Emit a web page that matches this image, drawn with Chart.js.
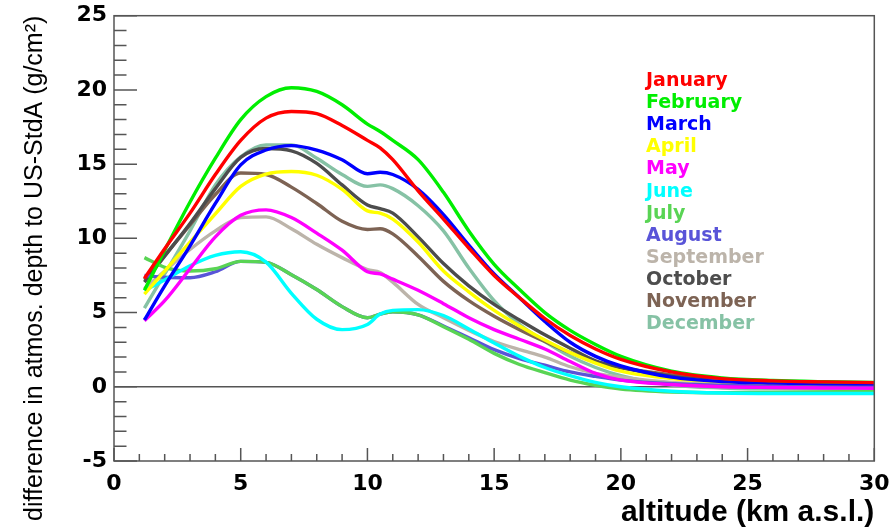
<!DOCTYPE html>
<html>
<head>
<meta charset="utf-8">
<script src="https://cdn.jsdelivr.net/npm/chart.js@4.4.1/dist/chart.umd.min.js"></script>
<style>
  html, body { margin: 0; padding: 0; background: #ffffff; }
</style>
</head>
<body>
<canvas id="chart" width="893" height="528"></canvas>
<script>
// altitude grid (km a.s.l.)
const altitude = [1.2, 2, 3, 4, 5, 6, 7, 8, 9, 10, 10.5, 11, 12, 13, 14, 15, 16, 17, 18, 19, 20, 22, 24, 26, 28, 30];

// difference in atmospheric depth to US-StdA (g/cm^2), one array per month
const january   = [7.3, 9.3, 11.7, 14.3, 16.6, 18.1, 18.55, 18.4, 17.6, 16.6, 16.1, 15.3, 13.2, 11.3, 9.35, 7.5, 6.0, 4.6, 3.45, 2.55, 1.85, 1.0, 0.55, 0.4, 0.33, 0.28];
const february  = [6.5, 9.2, 12.45, 15.4, 18.0, 19.55, 20.15, 19.9, 19.0, 17.7, 17.2, 16.6, 15.3, 13.1, 10.5, 8.25, 6.55, 5.0, 3.8, 2.85, 2.05, 1.05, 0.6, 0.42, 0.34, 0.3];
const march     = [4.5, 6.8, 9.5, 12.35, 14.95, 15.95, 16.25, 15.95, 15.3, 14.35, 14.45, 14.3, 13.3, 11.6, 9.55, 7.6, 6.0, 4.4, 3.0, 2.05, 1.4, 0.65, 0.35, 0.25, 0.2, 0.18];
const april     = [6.25, 7.8, 9.75, 11.65, 13.5, 14.33, 14.5, 14.25, 13.3, 11.85, 11.7, 11.3, 9.75, 7.8, 6.4, 5.15, 4.1, 3.15, 2.3, 1.6, 1.05, 0.55, 0.35, 0.25, 0.22, 0.2];
const may       = [4.45, 5.8, 7.95, 10.1, 11.55, 11.92, 11.4, 10.35, 9.2, 7.75, 7.6, 7.25, 6.5, 5.6, 4.65, 3.85, 3.2, 2.55, 1.7, 0.9, 0.45, 0.15, 0.0, -0.05, -0.08, -0.1];
const june      = [6.48, 7.2, 8.15, 8.85, 9.1, 8.4, 6.3, 4.55, 3.85, 4.2, 4.9, 5.15, 5.2, 4.8, 3.9, 2.95, 2.05, 1.3, 0.75, 0.3, 0.0, -0.3, -0.42, -0.45, -0.45, -0.45];
const july      = [8.7, 8.05, 7.8, 7.95, 8.45, 8.38, 7.55, 6.55, 5.4, 4.65, 4.9, 5.05, 4.85, 4.05, 3.2, 2.25, 1.5, 0.95, 0.45, 0.1, -0.15, -0.35, -0.4, -0.38, -0.34, -0.31];
const august    = [7.5, 7.38, 7.35, 7.75, 8.45, 8.38, 7.55, 6.55, 5.4, 4.65, 4.9, 5.05, 4.85, 4.1, 3.3, 2.5, 1.9, 1.45, 1.0, 0.7, 0.45, 0.2, 0.1, 0.05, 0.02, 0.0];
const september = [6.6, 7.8, 9.25, 10.5, 11.4, 11.45, 10.65, 9.6, 8.7, 7.9, 7.7, 7.05, 5.55, 4.65, 3.8, 3.05, 2.5, 2.0, 1.35, 0.9, 0.65, 0.3, 0.18, 0.12, 0.08, 0.06];
const october   = [7.05, 8.8, 11.0, 13.35, 15.45, 16.05, 15.9, 15.05, 13.6, 12.25, 12.0, 11.7, 10.1, 8.3, 6.8, 5.55, 4.5, 3.5, 2.6, 1.75, 1.3, 0.7, 0.4, 0.28, 0.22, 0.18];
const november  = [7.2, 8.85, 10.9, 12.95, 14.4, 14.3, 13.45, 12.35, 11.15, 10.6, 10.65, 10.3, 8.8, 7.1, 5.8, 4.75, 3.85, 3.05, 2.3, 1.7, 1.3, 0.8, 0.5, 0.35, 0.28, 0.22];
const december  = [5.3, 7.6, 10.5, 13.6, 15.5, 16.3, 16.3, 15.4, 14.3, 13.5, 13.6, 13.35, 12.2, 10.5, 8.0, 5.8, 4.2, 3.05, 2.05, 1.3, 0.75, 0.12, -0.08, -0.14, -0.16, -0.16];

const months = ['January', 'February', 'March', 'April', 'May', 'June', 'July', 'August', 'September', 'October', 'November', 'December'];
const monthValues = [january, february, march, april, may, june, july, august, september, october, november, december];
const monthColors = ['#ff0000', '#00ee00', '#0000ff', '#ffff00', '#ff00ff', '#00ffff',
                     '#59d454', '#5954d8', '#bcb4aa', '#4d4d4d', '#7d6354', '#86c2a5'];

const axisColor = '#555555';

const datasets = months.map((name, i) => ({
    label: name,
    data: altitude.map((a, k) => ({x: a, y: monthValues[i][k]})),
    borderColor: monthColors[i],
    borderWidth: 3.4,
    pointRadius: 0,
    fill: false,
    cubicInterpolationMode: 'monotone',
}));

// zero line under the curves, frame and inner ticks on top (ROOT style)
const frameTicks = {
    id: 'frameTicks',
    beforeDatasetsDraw(chart) {
        const {ctx, chartArea: a, scales: {y}} = chart;
        const y0 = y.getPixelForValue(0);
        ctx.save();
        ctx.strokeStyle = axisColor;
        ctx.lineWidth = 1.5;
        ctx.beginPath();
        ctx.moveTo(a.left, y0);
        ctx.lineTo(a.right, y0);
        ctx.stroke();
        ctx.restore();
    },
    afterDatasetsDraw(chart) {
        const {ctx, chartArea: a, scales: {x, y}} = chart;
        ctx.save();
        ctx.strokeStyle = axisColor;
        ctx.lineWidth = 1.5;
        ctx.strokeRect(a.left, a.top, a.right - a.left, a.bottom - a.top);
        ctx.beginPath();
        for (let v = -5; v <= 25; v++) {
            const py = y.getPixelForValue(v);
            const len = v % 5 === 0 ? 23 : 12.5;
            ctx.moveTo(a.left, py);
            ctx.lineTo(a.left + len, py);
        }
        for (let v = 0; v <= 30; v++) {
            const px = x.getPixelForValue(v);
            const len = v % 5 === 0 ? 13 : 7;
            ctx.moveTo(px, a.bottom);
            ctx.lineTo(px, a.bottom - len);
        }
        ctx.stroke();
        ctx.restore();
    }
};

// coloured month names, no symbols
const monthLegend = {
    id: 'monthLegend',
    afterDraw(chart) {
        const {ctx} = chart;
        ctx.save();
        ctx.font = 'bold 19px "DejaVu Sans"';
        ctx.textBaseline = 'alphabetic';
        ctx.textAlign = 'left';
        months.forEach((name, i) => {
            ctx.fillStyle = monthColors[i];
            ctx.fillText(name, 646, 86 + 22.12 * i);
        });
        ctx.restore();
    }
};

const tickFont = {family: 'DejaVu Sans', weight: 'bold', size: 22};

new Chart(document.getElementById('chart'), {
    type: 'line',
    data: {datasets},
    plugins: [frameTicks, monthLegend],
    options: {
        responsive: false,
        animation: false,
        devicePixelRatio: 1,
        layout: {padding: {left: 0, right: 18.7, top: 15.7, bottom: 0}},
        plugins: {
            legend: {display: false},
            tooltip: {enabled: false},
        },
        scales: {
            x: {
                type: 'linear',
                min: 0,
                max: 30,
                grid: {display: false, drawTicks: false},
                border: {display: false},
                ticks: {stepSize: 5, font: tickFont, color: '#000000', padding: 10, maxRotation: 0, autoSkip: false},
                title: {
                    display: true,
                    text: 'altitude (km a.s.l.)',
                    align: 'end',
                    color: '#000000',
                    font: {family: 'Liberation Sans', weight: 'bold', size: 30, lineHeight: 1},
                    padding: 0,
                },
                afterFit(scale) {
                    scale.height = 67;
                    scale.paddingLeft = 0;
                    scale.paddingRight = 0;
                },
            },
            y: {
                type: 'linear',
                min: -5,
                max: 25,
                grid: {display: false, drawTicks: false},
                border: {display: false},
                ticks: {stepSize: 5, font: tickFont, color: '#000000', padding: 7},
                title: {
                    display: true,
                    text: 'difference in atmos. depth to US-StdA (g/cm²)',
                    align: 'end',
                    color: '#000000',
                    font: {family: 'Liberation Sans', size: 25, lineHeight: 1.2},
                    padding: {top: 20, bottom: 0},
                },
                afterFit(scale) {
                    scale.width = 114;
                    scale.paddingTop = 0;
                    scale.paddingBottom = 0;
                },
            },
        },
    },
});
</script>
</body>
</html>
